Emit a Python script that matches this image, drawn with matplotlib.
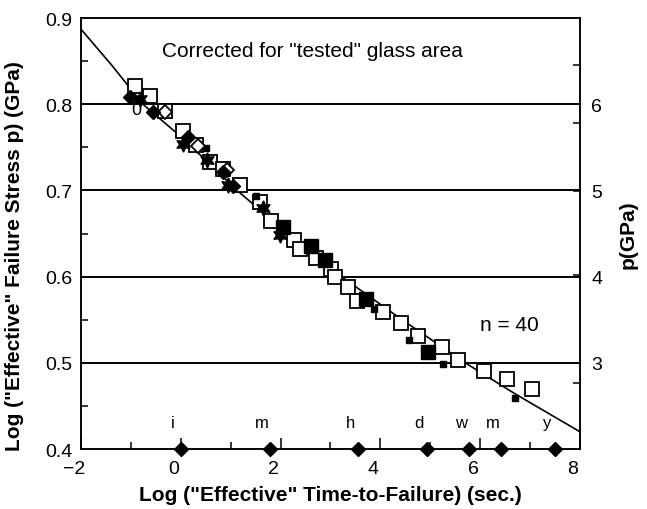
import numpy as np
import matplotlib
matplotlib.use("Agg")
import matplotlib.pyplot as plt
from matplotlib.transforms import ScaledTranslation

plt.rcParams['font.family'] = ['Liberation Sans', 'DejaVu Sans']

# open squares
open_x = [-0.91, -0.61, -0.32, 0.05, 0.31, 0.59, 0.84, 1.19, 1.59, 1.81, 2.27, 2.39, 2.70,
          3.02, 3.09, 3.36, 3.53, 4.06, 4.41, 4.76, 5.23, 5.56, 6.08, 6.53, 7.03]
open_y = [0.821, 0.809, 0.792, 0.769, 0.753, 0.733, 0.725, 0.706, 0.686, 0.665, 0.643, 0.632, 0.622,
          0.609, 0.600, 0.588, 0.572, 0.559, 0.546, 0.531, 0.518, 0.503, 0.491, 0.481, 0.470]

# big filled squares
big_x = [2.05, 2.60, 2.89, 3.71, 4.96]
big_y = [0.658, 0.635, 0.619, 0.574, 0.513]

# small filled squares
small_x = [0.51, 1.51, 3.87, 4.58, 5.25, 6.70]
small_y = [0.749, 0.693, 0.562, 0.526, 0.499, 0.459]

# filled diamonds
fdia_x = [-1.02, -0.56, 0.15, 0.85, 1.05]
fdia_y = [0.808, 0.791, 0.762, 0.721, 0.705]

# open diamonds
odia_x = [-0.32, 0.35, 0.93]
odia_y = [0.791, 0.751, 0.724]

# stars
star_x = [-0.82, 0.05, 0.52, 0.95, 1.65, 1.99]
star_y = [0.806, 0.754, 0.735, 0.706, 0.680, 0.648]

# fitted curve
fit_x = [-2.0, -1.38, -0.76, 0.05, 1.13, 2.19, 3.22, 4.41, 5.70, 6.70, 8.0]
fit_y = [0.887, 0.845, 0.800, 0.760, 0.700, 0.647, 0.600, 0.551, 0.500, 0.464, 0.420]

# time scale: second, minute, hour, day, week, month, year
time_pos = [0.0, 1.78, 3.56, 4.94, 5.78, 6.42, 7.50]
time_lab = ['i', 'm', 'h', 'd', 'w', 'm', 'y']

grid_y = [0.5, 0.6, 0.7, 0.8]
right_lab = ['3', '4', '5', '6']
right_minor = np.log10([3, 4, 5, 6, 7])

fig = plt.figure(figsize=(6.47, 5.10), dpi=100)
ax = fig.add_axes([0.1252, 0.1176, 0.7712, 0.8451])
ax.set_xlim(-2, 8)
ax.set_ylim(0.4, 0.9)

for g in grid_y:
    ax.axhline(g, color='black', lw=1.4, zorder=1)

ax.plot(fit_x, fit_y, color='black', lw=1.2, zorder=2)

ax.plot(open_x, open_y, 's', ms=10, mfc='white', mec='black', mew=1.3, zorder=3)
ax.plot(big_x, big_y, 's', ms=10, mfc='black', mec='black', zorder=4)
ax.plot(small_x, small_y, 's', ms=5, mfc='black', mec='black', zorder=4)
ax.plot(odia_x, odia_y, 'D', ms=7, mfc='white', mec='black', mew=1.3, zorder=4)
ax.plot(fdia_x, fdia_y, 'D', ms=7, mfc='black', mec='black', zorder=5)
ax.plot(star_x, star_y, marker=(6, 1, 0), ls='none', ms=11, mfc='black', mec='black', zorder=5)
ax.text(-0.89, 0.794, '0', fontsize=13, ha='center', va='center', zorder=5)

# time markers on the x axis
ax.plot(time_pos, [0.4] * len(time_pos), 'D', ms=7.5, color='black', clip_on=False, zorder=6)
shift = ScaledTranslation(-8 / 100, 0, fig.dpi_scale_trans)
for t, lab in zip(time_pos, time_lab):
    ax.text(t, 0.431, lab, fontsize=12, ha='center', va='center',
            transform=ax.transData + shift)

ax.text(2.64, 0.862, 'Corrected for "tested" glass area', fontsize=15, ha='center', va='center')
ax.text(6.58, 0.544, 'n = 40', fontsize=15, ha='center', va='center')

# axes ticks
ax.set_xticks([-2, 0, 2, 4, 6, 8])
ax.set_xticklabels(['\u22122', '0', '2', '4', '6', '8'])
ax.set_xticks([-1, 1, 3, 5, 7], minor=True)
ax.set_yticks([0.4, 0.5, 0.6, 0.7, 0.8, 0.9])
ax.set_yticklabels(['0.4', '0.5', '0.6', '0.7', '0.8', '0.9'])
ax.set_yticks([0.45, 0.55, 0.65, 0.75, 0.85], minor=True)
ax.tick_params(axis='x', which='major', direction='in', length=8, width=1.1, labelsize=14, pad=8)
ax.tick_params(axis='x', which='minor', direction='in', length=5, width=1.1)
ax.tick_params(axis='y', which='major', direction='in', length=0, labelsize=14, pad=6)
ax.tick_params(axis='y', which='minor', direction='in', length=5, width=1.1)
for lbl in ax.get_xticklabels():
    lbl.set_transform(lbl.get_transform() + ScaledTranslation(-7 / 100, 0, fig.dpi_scale_trans))

for sp in ax.spines.values():
    sp.set_linewidth(1.1)

ax.set_xlabel('Log ("Effective" Time-to-Failure) (sec.)', fontsize=15, fontweight='bold', labelpad=6)
ax.set_ylabel('Log ("Effective" Failure Stress p) (GPa)', fontsize=15, fontweight='bold')
ax.yaxis.set_label_coords(-0.114, 0.45)

# right axis in p (GPa)
ax2 = ax.twinx()
ax2.set_ylim(0.4, 0.9)
ax2.set_yticks(grid_y)
ax2.set_yticklabels(right_lab)
ax2.set_yticks(right_minor, minor=True)
ax2.tick_params(axis='y', which='major', direction='in', length=0, labelsize=14, pad=8)
ax2.tick_params(axis='y', which='minor', direction='in', length=5, width=1.1)
ax2.set_ylabel('p(GPa)', fontsize=15, fontweight='bold', labelpad=12)
for sp in ax2.spines.values():
    sp.set_linewidth(1.1)

fig.savefig('out.png', dpi=100)
